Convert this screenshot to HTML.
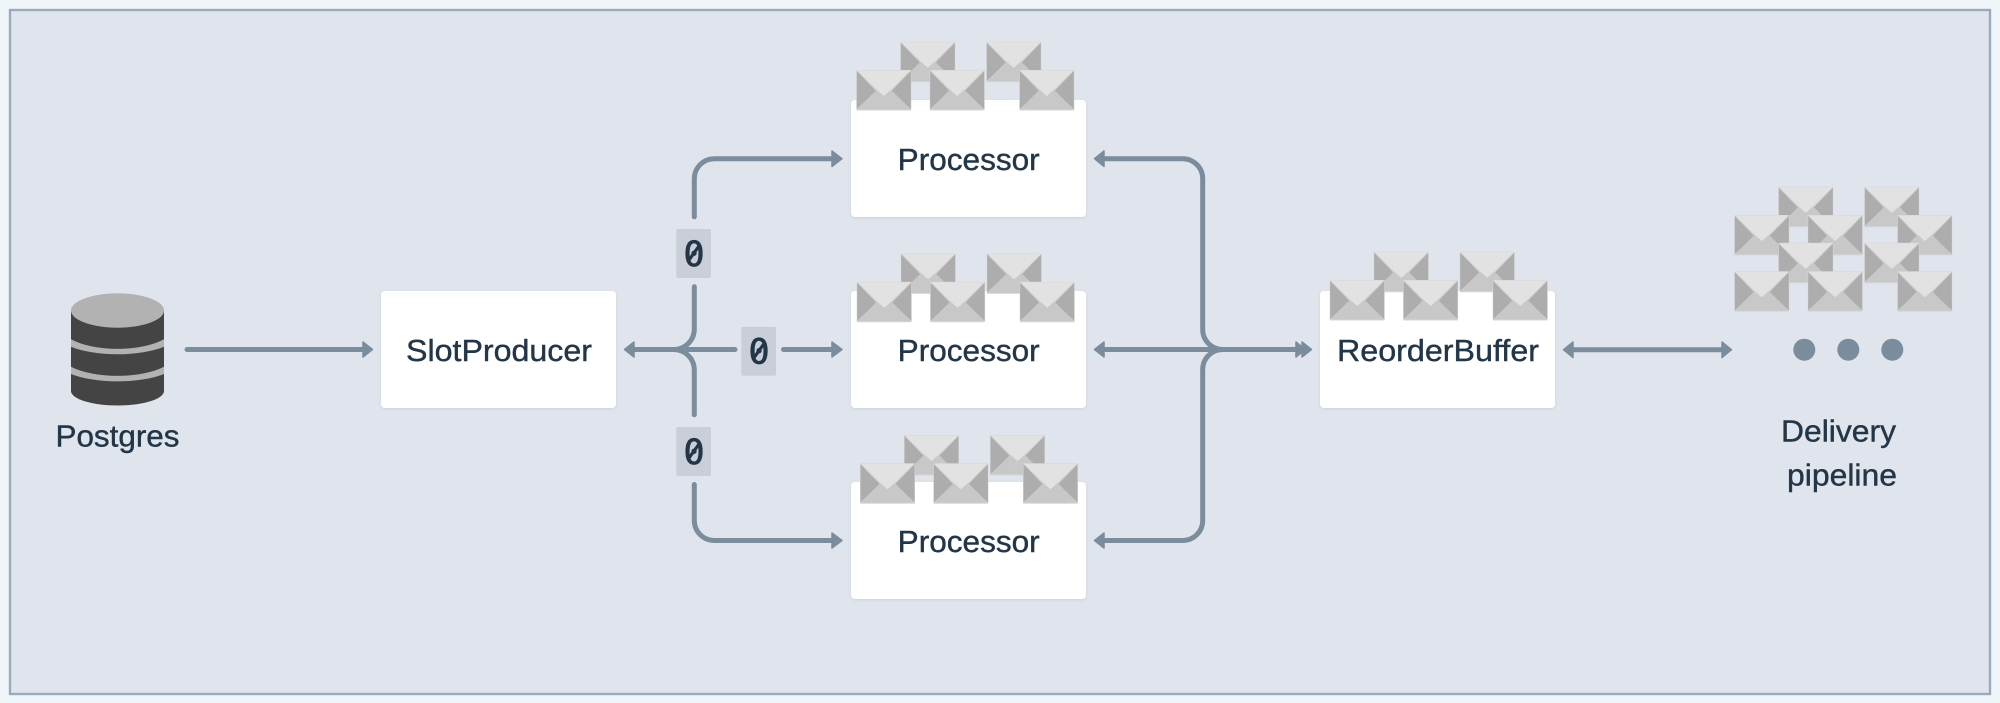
<!DOCTYPE html>
<html>
<head>
<meta charset="utf-8">
<style>
html,body{margin:0;padding:0;background:#f0f5f9;width:2000px;height:703px;overflow:hidden}
svg{display:block}
text{font-family:"Liberation Sans",sans-serif;font-size:30.5px;fill:#233648;stroke:#233648;stroke-width:.4}
text.z{font-family:"DejaVu Sans Mono",monospace;font-size:35px;text-anchor:middle;stroke-width:.7}
.s{stroke:#233648;stroke-width:3.2;stroke-linecap:round;fill:none}
.l{fill:none;stroke:#7b8c9c;stroke-width:5;stroke-linecap:round}
.a{fill:#7b8c9c;stroke:#7b8c9c;stroke-width:1.5;stroke-linejoin:round}
.b{fill:#fff;filter:url(#s)}
.c{fill:#c9ced8}
</style>
</head>
<body>
<svg width="2000" height="703" viewBox="0 0 2000 703" xmlns="http://www.w3.org/2000/svg">
<defs>
<filter id="s" x="-5%" y="-5%" width="110%" height="110%"><feDropShadow dx="0" dy="1" stdDeviation="1.5" flood-color="#9aa6b5" flood-opacity=".3"/></filter>
<g id="e">
<rect x="0" y="0" width="55" height="40.5" rx="1" fill="#d6d6d6"/>
<polygon points="0.5,1 20,21 0.5,39" fill="#adadad"/>
<polygon points="54.5,1 35,21 54.5,39" fill="#adadad"/>
<polygon points="0.5,39.5 20,20 27.5,26 35,20 54.5,39.5" fill="#c8c8c8"/>
<polygon points="1,0.5 54,0.5 27.5,26" fill="#e2e2e2"/>
</g>
<g id="g">
<use href="#e" x="44" y="-28.3"/>
<use href="#e" x="130" y="-28.3"/>
<use href="#e" x="0" y="0"/>
<use href="#e" x="73.4" y="0"/>
<use href="#e" x="163" y="0"/>
</g>
</defs>

<rect x="10" y="10" width="1980" height="684" fill="#e0e5ed" stroke="#9aabbc" stroke-width="2.4"/>

<!-- Postgres icon -->
<path d="M71 310V391C71 399 92 405.500 117.500 405.500S164 399 164 391V310Z" fill="#444"/>
<path d="M71 339.300A60 26 0 0 0 164 339.300V346.700A60 20.600 0 0 1 71 346.700Z" fill="#b2b2b2"/>
<path d="M71 366.700A60 25 0 0 0 164 366.700V374A60 20 0 0 1 71 374Z" fill="#b2b2b2"/>
<ellipse cx="117.500" cy="310.500" rx="46.500" ry="17.200" fill="#b2b2b2"/>
<text x="55.500" y="446.700" textLength="124" lengthAdjust="spacingAndGlyphs">Postgres</text>

<!-- Boxes -->
<rect class="b" x="381" y="291" width="235" height="117" rx="4"/>
<rect class="b" x="851" y="100" width="235" height="117" rx="4"/>
<rect class="b" x="851" y="291" width="235" height="117" rx="4"/>
<rect class="b" x="851" y="482" width="235" height="117" rx="4"/>
<rect class="b" x="1320" y="291" width="235" height="117" rx="4"/>

<!-- Envelopes -->
<use href="#g" x="856.300" y="70"/>
<use href="#g" x="856.700" y="281.700"/>
<use href="#g" x="860" y="463.300"/>
<use href="#g" x="1329.700" y="280"/>

<use href="#e" x="1778.300" y="186.700"/>
<use href="#e" x="1864.300" y="186.700"/>
<use href="#e" x="1734.300" y="215"/>
<use href="#e" x="1807.700" y="215"/>
<use href="#e" x="1897.300" y="215"/>
<use href="#e" x="1778.300" y="242.700"/>
<use href="#e" x="1864.300" y="242.700"/>
<use href="#e" x="1734.300" y="271.300"/>
<use href="#e" x="1807.700" y="271.300"/>
<use href="#e" x="1897.300" y="271.300"/>

<!-- Box labels -->
<text x="406" y="361" textLength="186" lengthAdjust="spacingAndGlyphs">SlotProducer</text>
<text x="897.700" y="170" textLength="142" lengthAdjust="spacingAndGlyphs">Processor</text>
<text x="897.700" y="361" textLength="142" lengthAdjust="spacingAndGlyphs">Processor</text>
<text x="897.700" y="552" textLength="142" lengthAdjust="spacingAndGlyphs">Processor</text>
<text x="1337" y="361" textLength="202" lengthAdjust="spacingAndGlyphs">ReorderBuffer</text>
<text x="1781" y="441.700" textLength="115" lengthAdjust="spacingAndGlyphs">Delivery</text>
<text x="1787" y="485.700" textLength="110" lengthAdjust="spacingAndGlyphs">pipeline</text>

<!-- Postgres to SlotProducer -->
<path class="l" d="M187 349.500H364"/>
<path class="a" d="M363 342L372.500 349.500L363 357Z"/>

<!-- Left fan-out -->
<path class="l" d="M694.300 216.800V178.500A20 20 0 0 1 714.300 158.700H832"/>
<path class="a" d="M832 151L842 158.700L832 166.500Z"/>
<path class="l" d="M694.300 286.800V329A20.500 20.500 0 0 1 673.800 349.500H634"/>
<path class="l" d="M694.300 414.800V370A20.500 20.500 0 0 0 673.800 349.500"/>
<path class="l" d="M634 349.500H735"/>
<path class="a" d="M634 342L624.500 349.500L634 357Z"/>
<path class="l" d="M783.500 349.500H832"/>
<path class="a" d="M832 342L842 349.500L832 357Z"/>
<path class="l" d="M694.300 484.500V520.500A20 20 0 0 0 714.300 540.500H832"/>
<path class="a" d="M832 533L842 540.500L832 548Z"/>

<!-- Chips -->
<rect class="c" x="676.300" y="229" width="34.700" height="49" rx="2"/>
<text class="z" x="694" y="266">0</text>
<path class="s" d="M689 260L699 246"/>
<rect class="c" x="741.300" y="326.700" width="34.700" height="49" rx="2"/>
<text class="z" x="759" y="363.700">0</text>
<path class="s" d="M754 357.700L764 343.700"/>
<rect class="c" x="676.300" y="427" width="34.700" height="49" rx="2"/>
<text class="z" x="694" y="464">0</text>
<path class="s" d="M689 458L699 444"/>

<!-- Right fan-in -->
<path class="l" d="M1105 158.700H1182.700A20 20 0 0 1 1202.700 178.700V329.500A20 20 0 0 0 1222.700 349.500"/>
<path class="l" d="M1105 540.500H1182.700A20 20 0 0 0 1202.700 520.500V369.500A20 20 0 0 1 1222.700 349.500"/>
<path class="l" d="M1105 349.500H1296"/>
<path class="a" d="M1104 151L1094.500 158.700L1104 166.500Z"/>
<path class="a" d="M1104 342L1094.500 349.500L1104 357Z"/>
<path class="a" d="M1104 533L1094.500 540.500L1104 548Z"/>
<path class="a" d="M1296 342L1305 349.500L1296 357Z"/>
<path class="a" d="M1302 342L1311.500 349.500L1302 357Z"/>

<!-- ReorderBuffer to delivery -->
<path class="l" d="M1573 349.700H1722"/>
<path class="a" d="M1573 342L1563.500 349.700L1573 357.500Z"/>
<path class="a" d="M1722 342L1731.500 349.700L1722 357.500Z"/>

<!-- Dots -->
<circle cx="1804.300" cy="349.700" r="11" fill="#7b8c9c"/>
<circle cx="1848.300" cy="349.700" r="11" fill="#7b8c9c"/>
<circle cx="1892.300" cy="349.700" r="11" fill="#7b8c9c"/>
</svg>
</body>
</html>
